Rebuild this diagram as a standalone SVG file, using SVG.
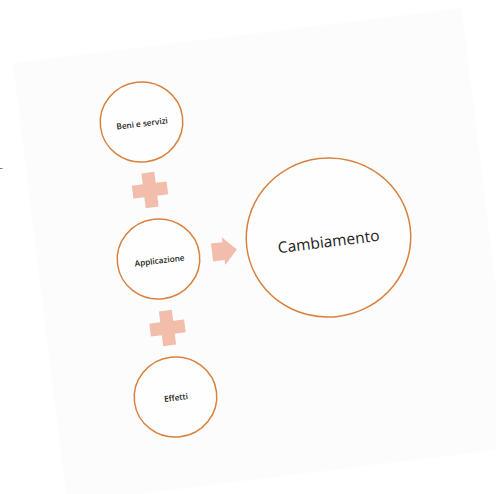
<svg xmlns="http://www.w3.org/2000/svg" width="496" height="494" viewBox="0 0 496 494">
<style>
.node{fill:#fefefe;stroke:#d9823f;stroke-width:1.5}
.lbl{font-family:"Open Sans","Liberation Sans",sans-serif;fill:#1a1a1a;text-anchor:middle;dominant-baseline:central}
.conn{fill:#f2bdaa}
</style>
<rect width="496" height="494" fill="#ffffff"/>
<rect x="13" y="63" width="452" height="443" fill="#fcfcfc" transform="rotate(-7 13 63)"/>
<line x1="0" y1="168.5" x2="2.5" y2="168.5" stroke="#4a8a99" stroke-width="1"/>
<g id="connectors">
<path class="conn" transform="translate(150 190) rotate(-7)" d="M-6.5,-17.5H6.5V-6.5H17.5V6.5H6.5V17.5H-6.5V6.5H-17.5V-6.5H-6.5Z"/>
<path class="conn" transform="translate(167.5 328) rotate(-7)" d="M-6.5,-17.5H6.5V-6.5H17.5V6.5H6.5V17.5H-6.5V6.5H-17.5V-6.5H-6.5Z"/>
<path class="conn" transform="translate(224.5 251) rotate(-7)" d="M-12.5,-9H-1V-14L12.5,0L-1,14V9H-12.5Z"/>
</g>
<g id="beni">
<ellipse class="node" cx="141.5" cy="122" rx="41.3" ry="40" transform="rotate(-7 141.5 122)"/>
<text class="lbl" x="142" y="123" font-size="8.2" font-weight="600" transform="rotate(-7 142 123)">Beni e servizi</text>
</g>
<g id="applicazione">
<ellipse class="node" cx="158.5" cy="259" rx="41.3" ry="40" transform="rotate(-7 158.5 259)"/>
<text class="lbl" x="159.5" y="260" font-size="8.2" font-weight="600" transform="rotate(-7 159.5 260)">Applicazione</text>
</g>
<g id="effetti">
<ellipse class="node" cx="175.5" cy="397" rx="41.3" ry="40" transform="rotate(-7 175.5 397)"/>
<text class="lbl" x="176" y="397" font-size="8.2" font-weight="600" transform="rotate(-7 176 397)">Effetti</text>
</g>
<g id="cambiamento">
<ellipse class="node" cx="328.5" cy="237.5" rx="82.3" ry="79.5" transform="rotate(-7 328.5 237.5)"/>
<text class="lbl" x="328.5" y="241" font-size="15.5" font-weight="500" transform="rotate(-7 328.5 241)">Cambiamento</text>
</g>
</svg>
